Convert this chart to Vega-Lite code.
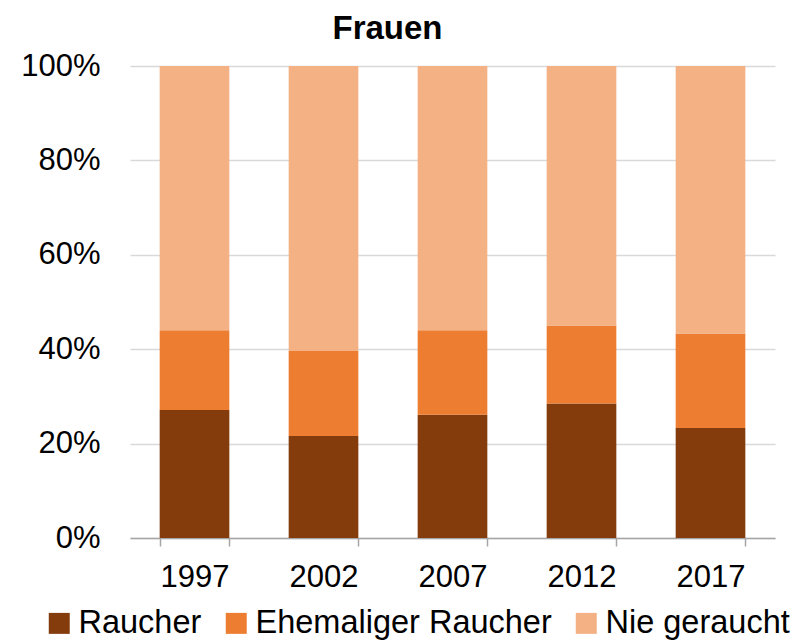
{
  "$schema": "https://vega.github.io/schema/vega-lite/v6.json",
  "autosize": "none",
  "width": 645,
  "height": 472,
  "padding": {"left": 130, "top": 66, "right": 30, "bottom": 104},
  "background": "white",
  "title": {"text": "Frauen", "fontSize": 33, "fontWeight": "bold", "font": "Liberation Sans", "color": "black", "anchor": "middle", "dx": -65, "offset": 4},
  "data": {"values": [
    {"Jahr": "1997", "Status": "Raucher", "Anteil": 0.271},
    {"Jahr": "1997", "Status": "Ehemaliger Raucher", "Anteil": 0.169},
    {"Jahr": "1997", "Status": "Nie geraucht", "Anteil": 0.560},
    {"Jahr": "2002", "Status": "Raucher", "Anteil": 0.216},
    {"Jahr": "2002", "Status": "Ehemaliger Raucher", "Anteil": 0.180},
    {"Jahr": "2002", "Status": "Nie geraucht", "Anteil": 0.604},
    {"Jahr": "2007", "Status": "Raucher", "Anteil": 0.261},
    {"Jahr": "2007", "Status": "Ehemaliger Raucher", "Anteil": 0.179},
    {"Jahr": "2007", "Status": "Nie geraucht", "Anteil": 0.560},
    {"Jahr": "2012", "Status": "Raucher", "Anteil": 0.285},
    {"Jahr": "2012", "Status": "Ehemaliger Raucher", "Anteil": 0.165},
    {"Jahr": "2012", "Status": "Nie geraucht", "Anteil": 0.550},
    {"Jahr": "2017", "Status": "Raucher", "Anteil": 0.233},
    {"Jahr": "2017", "Status": "Ehemaliger Raucher", "Anteil": 0.200},
    {"Jahr": "2017", "Status": "Nie geraucht", "Anteil": 0.567}
  ]},
  "transform": [
    {"calculate": "indexof(['Raucher', 'Ehemaliger Raucher', 'Nie geraucht'], datum.Status)", "as": "Rang"}
  ],
  "mark": {"type": "bar"},
  "encoding": {
    "x": {"field": "Jahr", "type": "nominal", "title": null,
      "scale": {"paddingInner": 0.46, "paddingOuter": 0.23},
      "axis": {"labelAngle": 0, "tickBand": "extent", "tickSize": 8, "tickColor": "#A6A6A6", "domainColor": "#A6A6A6", "domainWidth": 1.5, "tickWidth": 1.5, "labelPadding": 16, "labelFontSize": 31, "labelFont": "Liberation Sans", "labelColor": "black", "grid": false}},
    "y": {"field": "Anteil", "type": "quantitative", "stack": "zero", "title": null,
      "scale": {"domain": [0, 1], "nice": false},
      "axis": {"values": [0, 0.2, 0.4, 0.6, 0.8, 1], "format": ".0%", "domain": false, "ticks": false, "labelPadding": 30, "labelFontSize": 31, "labelFont": "Liberation Sans", "labelColor": "black", "gridColor": "#D9D9D9", "gridWidth": 1.5}},
    "color": {"field": "Status", "type": "nominal", "title": null,
      "sort": ["Raucher", "Ehemaliger Raucher", "Nie geraucht"],
      "scale": {"domain": ["Raucher", "Ehemaliger Raucher", "Nie geraucht"], "range": ["#843C0C", "#ED7D31", "#F4B183"]},
      "legend": {"orient": "none", "direction": "horizontal", "legendX": -87, "legendY": 541, "symbolType": "square", "symbolSize": 440, "symbolStrokeWidth": 0, "labelFontSize": 32.5, "labelFont": "Liberation Sans", "labelColor": "black", "labelOffset": 3, "columnPadding": 18, "labelLimit": 400}},
    "order": {"field": "Rang", "type": "quantitative", "sort": "ascending"}
  },
  "config": {"view": {"stroke": null}}
}
